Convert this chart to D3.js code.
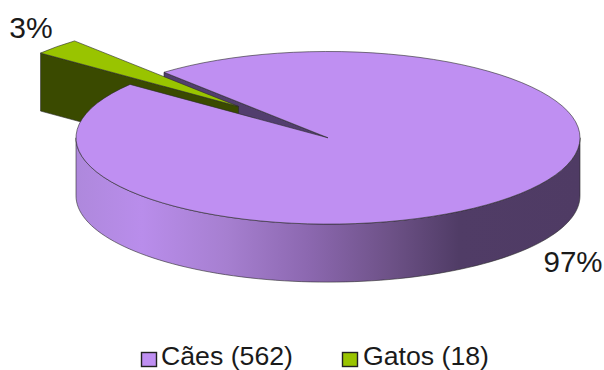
<!DOCTYPE html>
<html>
<head>
<meta charset="utf-8">
<script src="https://cdnjs.cloudflare.com/ajax/libs/d3/7.8.5/d3.min.js"></script>
<style>
  html, body { margin: 0; padding: 0; background: #fff; }
  svg { display: block; }
  text { font-family: "Liberation Sans", Arial, sans-serif; fill: #1a1a1a; }
</style>
</head>
<body>
<svg id="chart" width="604" height="370"></svg>
<script>
// Animal counts shown in the pie
const categories = ["Cães", "Gatos"];
const counts = [562, 18];
const percentLabels = ["97%", "3%"];
const legendLabels = ["Cães (562)", "Gatos (18)"];
const topColors = ["#BF8FF2", "#99C400"];
const cutFaceColors = ["#523E6E", "#3A4A00"];
const explodeDistances = [0, 124];

const svg = d3.select("#chart");

// Tilted disc geometry
const cx = 328, cy = 137.8, radiusX = 252, tilt = 0.3425, depth = 58;
const explodeTilt = 0.365;
const startDeg = -40.6;

const pie = d3.pie().sort(null)
  .startAngle(startDeg * Math.PI / 180)
  .endAngle((startDeg + 360) * Math.PI / 180);
const slices = pie(counts);

// Maps an angle and radius on the disc to screen position
const px = (a, r, off) => cx + off.x + r * Math.sin(a);
const py = (a, r, off, drop = 0) => cy + off.y - r * tilt * Math.cos(a) + drop;
const offsets = slices.map((s, i) => {
  const mid = (s.startAngle + s.endAngle) / 2;
  return {
    x: explodeDistances[i] * Math.sin(mid),
    y: -explodeDistances[i] * explodeTilt * Math.cos(mid)
  };
});

const line = d3.line();
const strokeColor = "#2a2a2a";

// Flat radial wall running from the hub to the rim at one angle
function cutFace(angle, off, fill) {
  svg.append("path")
    .attr("d", line([
      [px(angle, 0, off), py(angle, 0, off)],
      [px(angle, radiusX, off), py(angle, radiusX, off)],
      [px(angle, radiusX, off), py(angle, radiusX, off, depth)],
      [px(angle, 0, off), py(angle, 0, off, depth)]
    ]) + "Z")
    .attr("fill", fill)
    .attr("stroke", strokeColor)
    .attr("stroke-width", 0.6);
}

// Elliptical top surface of a slice
function topFace(slice, off, fill) {
  const arc = d3.arc().innerRadius(0).outerRadius(radiusX);
  svg.append("g")
    .attr("transform", `translate(${cx + off.x},${cy + off.y}) scale(1,${tilt})`)
    .append("path")
    .attr("d", arc(slice))
    .attr("fill", fill)
    .attr("stroke", strokeColor)
    .attr("stroke-width", 0.6)
    .attr("vector-effect", "non-scaling-stroke");
}

// Shaded rim of the disc, running left to right
const defs = svg.append("defs");
const rimGradient = defs.append("linearGradient")
  .attr("id", "rim")
  .attr("gradientUnits", "userSpaceOnUse")
  .attr("x1", cx - radiusX).attr("x2", cx + radiusX)
  .attr("y1", 0).attr("y2", 0);
[
  [0, "#AE88DC"], [0.13, "#B98DEB"], [0.3, "#A67FD0"], [0.46, "#8C68B0"],
  [0.62, "#6E5288"], [0.76, "#503C66"], [1, "#4F3B64"]
].forEach(([o, c]) => rimGradient.append("stop").attr("offset", o).attr("stop-color", c));

function rimWall() {
  const a0 = Math.PI / 2, a1 = Math.PI * 1.5;
  const ticks = d3.range(a0, a1 + 0.001, Math.PI / 90);
  const off = offsets[0];
  const upper = ticks.map(a => [px(a, radiusX, off), py(a, radiusX, off)]);
  const lower = ticks.slice().reverse().map(a => [px(a, radiusX, off), py(a, radiusX, off, depth)]);
  svg.append("path")
    .attr("d", line(upper.concat(lower)) + "Z")
    .attr("fill", "url(#rim)")
    .attr("stroke", strokeColor)
    .attr("stroke-width", 0.6);
}

// Back-to-front painting order
cutFace(slices[0].startAngle, offsets[0], cutFaceColors[0]);
cutFace(slices[1].startAngle, offsets[1], cutFaceColors[1]);
topFace(slices[1], offsets[1], topColors[1]);
rimWall();
topFace(slices[0], offsets[0], topColors[0]);

// Percentage labels
svg.append("text").attr("x", 31).attr("y", 38).attr("text-anchor", "middle")
  .attr("font-size", 30).text(percentLabels[1]);
svg.append("text").attr("x", 573).attr("y", 272).attr("text-anchor", "middle")
  .attr("font-size", 29.5).text(percentLabels[0]);

// Legend
const legendX = [141.5, 342.5];
const legendTextX = [161, 363];
const legendTextWidth = [132, 126];
legendLabels.forEach((label, i) => {
  svg.append("rect")
    .attr("x", legendX[i]).attr("y", 352.5)
    .attr("width", 15).attr("height", 14)
    .attr("fill", topColors[i])
    .attr("stroke", "#222").attr("stroke-width", 1.4);
  svg.append("text")
    .attr("x", legendTextX[i]).attr("y", 365)
    .attr("font-size", 25.5)
    .attr("textLength", legendTextWidth[i])
    .attr("lengthAdjust", "spacingAndGlyphs")
    .text(label);
});
</script>
</body>
</html>
